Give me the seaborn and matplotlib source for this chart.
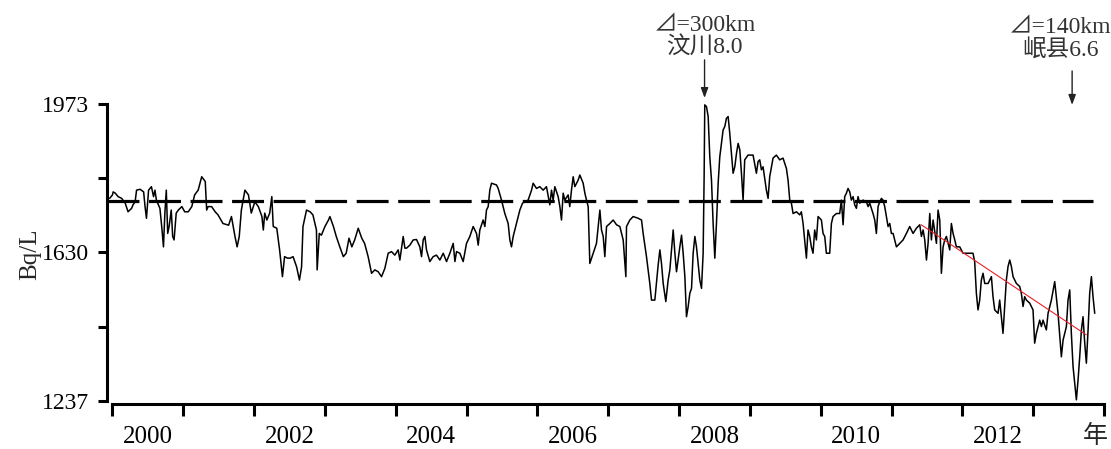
import numpy as np
import pandas as pd
import matplotlib
matplotlib.use("Agg")
import matplotlib.pyplot as plt
from matplotlib.transforms import blended_transform_factory
import seaborn as sns

# ---- data: (decimal year, radon Bq/L) ----
radon_2000_2003 = [
    (1999.96, 1755), (2000.00, 1763), (2000.01, 1770), (2000.04, 1767), (2000.08, 1759),
    (2000.13, 1755), (2000.18, 1744), (2000.22, 1724), (2000.27, 1732), (2000.29, 1740),
    (2000.32, 1747), (2000.34, 1774), (2000.39, 1776), (2000.44, 1770), (2000.46, 1736),
    (2000.48, 1709), (2000.51, 1774), (2000.55, 1782), (2000.58, 1759), (2000.60, 1774),
    (2000.62, 1751), (2000.67, 1732), (2000.70, 1682), (2000.72, 1643), (2000.74, 1721),
    (2000.76, 1774), (2000.78, 1674), (2000.80, 1690), (2000.83, 1728), (2000.85, 1667),
    (2000.87, 1659), (2000.90, 1721), (2000.93, 1728), (2000.98, 1736), (2001.02, 1724),
    (2001.07, 1724), (2001.12, 1736), (2001.16, 1763), (2001.21, 1774), (2001.26, 1805),
    (2001.31, 1794), (2001.33, 1728), (2001.35, 1736), (2001.40, 1736), (2001.45, 1724),
    (2001.49, 1717), (2001.56, 1697), (2001.64, 1693), (2001.68, 1713), (2001.73, 1667),
    (2001.76, 1643), (2001.79, 1667), (2001.82, 1728), (2001.87, 1774), (2001.92, 1763),
    (2001.96, 1721), (2002.01, 1747), (2002.06, 1736), (2002.11, 1713), (2002.13, 1682),
    (2002.15, 1721), (2002.18, 1705), (2002.22, 1721), (2002.25, 1759), (2002.27, 1690),
    (2002.32, 1686), (2002.36, 1636), (2002.40, 1566), (2002.43, 1619), (2002.47, 1615),
    (2002.51, 1615), (2002.55, 1619), (2002.60, 1592), (2002.64, 1557), (2002.67, 1592),
    (2002.69, 1690), (2002.74, 1728), (2002.79, 1724), (2002.83, 1717), (2002.88, 1682),
    (2002.89, 1584), (2002.92, 1674), (2002.95, 1670), (2003.00, 1690), (2003.05, 1705),
    (2003.07, 1713), (2003.12, 1690), (2003.16, 1667), (2003.21, 1643), (2003.26, 1619),
    (2003.30, 1628), (2003.34, 1663), (2003.38, 1643), (2003.42, 1659), (2003.47, 1686),
    (2003.52, 1663), (2003.56, 1651), (2003.61, 1619),
]

radon_2003_2008 = [
    (2003.658, 1575), (2003.705, 1584), (2003.752, 1579), (2003.799, 1566), (2003.846, 1588),
    (2003.893, 1628), (2003.940, 1632), (2003.987, 1623), (2004.034, 1636), (2004.058, 1610),
    (2004.105, 1667), (2004.129, 1640), (2004.152, 1640), (2004.199, 1647), (2004.246, 1659),
    (2004.293, 1660), (2004.340, 1643), (2004.364, 1619), (2004.387, 1659), (2004.411, 1667),
    (2004.434, 1636), (2004.481, 1606), (2004.528, 1619), (2004.575, 1623), (2004.623, 1610),
    (2004.670, 1628), (2004.717, 1606), (2004.764, 1628), (2004.811, 1651), (2004.835, 1606),
    (2004.858, 1632), (2004.905, 1628), (2004.952, 1606), (2004.999, 1651), (2005.046, 1667),
    (2005.093, 1690), (2005.140, 1674), (2005.164, 1647), (2005.187, 1682), (2005.234, 1705),
    (2005.258, 1690), (2005.281, 1728), (2005.305, 1736), (2005.328, 1774), (2005.352, 1790),
    (2005.422, 1786), (2005.446, 1778), (2005.493, 1751), (2005.540, 1720), (2005.587, 1697),
    (2005.611, 1659), (2005.634, 1643), (2005.658, 1667), (2005.705, 1697), (2005.752, 1728),
    (2005.790, 1744), (2005.822, 1747), (2005.869, 1751), (2005.917, 1774), (2005.940, 1790),
    (2005.987, 1778), (2006.034, 1782), (2006.081, 1774), (2006.128, 1782), (2006.175, 1740),
    (2006.199, 1774), (2006.222, 1751), (2006.246, 1782), (2006.293, 1759), (2006.317, 1736),
    (2006.340, 1705), (2006.364, 1767), (2006.387, 1751), (2006.434, 1763), (2006.457, 1736),
    (2006.481, 1774), (2006.505, 1805), (2006.528, 1782), (2006.575, 1797), (2006.599, 1809),
    (2006.646, 1790), (2006.670, 1767), (2006.693, 1751), (2006.717, 1736), (2006.740, 1601),
    (2006.787, 1628), (2006.834, 1651), (2006.882, 1728), (2006.905, 1682), (2006.929, 1667),
    (2006.952, 1619), (2006.976, 1690), (2007.023, 1697), (2007.070, 1705), (2007.117, 1694),
    (2007.164, 1690), (2007.211, 1659), (2007.249, 1566), (2007.258, 1690), (2007.305, 1705),
    (2007.352, 1713), (2007.423, 1709), (2007.470, 1705), (2007.493, 1674), (2007.540, 1619),
    (2007.587, 1548), (2007.611, 1504), (2007.658, 1504), (2007.705, 1597), (2007.729, 1636),
    (2007.752, 1601), (2007.776, 1548), (2007.813, 1500), (2007.846, 1557), (2007.870, 1584),
    (2007.917, 1682), (2007.941, 1628), (2007.964, 1579), (2008.011, 1643), (2008.035, 1670),
    (2008.058, 1628), (2008.082, 1566), (2008.105, 1460), (2008.129, 1487), (2008.152, 1522),
    (2008.176, 1535), (2008.199, 1628), (2008.223, 1667), (2008.246, 1643), (2008.293, 1557),
    (2008.317, 1535), (2008.340, 1628), (2008.354, 1805), (2008.363, 1971), (2008.387, 1967),
    (2008.411, 1944), (2008.434, 1851), (2008.458, 1797), (2008.481, 1697), (2008.505, 1615),
    (2008.528, 1697), (2008.552, 1790), (2008.575, 1851), (2008.622, 1913), (2008.646, 1921),
    (2008.669, 1940), (2008.693, 1944), (2008.716, 1905), (2008.740, 1859), (2008.763, 1813),
    (2008.787, 1828), (2008.811, 1859), (2008.834, 1882), (2008.858, 1867), (2008.881, 1813),
]

radon_2008_2013 = [
    (2008.904, 1751), (2008.927, 1844), (2008.974, 1855), (2009.045, 1855), (2009.092, 1813),
    (2009.116, 1840), (2009.139, 1844), (2009.163, 1821), (2009.186, 1828), (2009.233, 1774),
    (2009.257, 1755), (2009.280, 1805), (2009.327, 1848), (2009.374, 1855), (2009.421, 1844),
    (2009.468, 1848), (2009.516, 1824), (2009.539, 1797), (2009.563, 1751), (2009.586, 1744),
    (2009.610, 1720), (2009.657, 1724), (2009.704, 1717), (2009.727, 1724), (2009.751, 1697),
    (2009.774, 1659), (2009.798, 1615), (2009.821, 1682), (2009.845, 1667), (2009.868, 1643),
    (2009.892, 1628), (2009.915, 1682), (2009.939, 1659), (2009.963, 1713), (2010.010, 1705),
    (2010.033, 1674), (2010.057, 1667), (2010.080, 1628), (2010.127, 1628), (2010.151, 1697),
    (2010.174, 1713), (2010.221, 1720), (2010.268, 1720), (2010.292, 1751), (2010.316, 1694),
    (2010.339, 1759), (2010.363, 1767), (2010.386, 1778), (2010.410, 1770), (2010.433, 1751),
    (2010.457, 1759), (2010.480, 1740), (2010.504, 1732), (2010.527, 1759), (2010.551, 1744),
    (2010.598, 1751), (2010.645, 1747), (2010.669, 1736), (2010.692, 1744), (2010.739, 1720),
    (2010.763, 1705), (2010.786, 1674), (2010.810, 1736), (2010.833, 1747), (2010.857, 1755),
    (2010.880, 1751), (2010.904, 1736), (2010.927, 1713), (2010.951, 1690), (2010.975, 1697),
    (2010.998, 1674), (2011.022, 1674), (2011.045, 1659), (2011.069, 1643), (2011.116, 1651),
    (2011.163, 1659), (2011.210, 1674), (2011.257, 1690), (2011.304, 1674), (2011.351, 1686),
    (2011.398, 1694), (2011.422, 1667), (2011.446, 1682), (2011.469, 1659), (2011.493, 1610),
    (2011.516, 1651), (2011.540, 1720), (2011.563, 1659), (2011.587, 1705), (2011.634, 1651),
    (2011.657, 1728), (2011.681, 1705), (2011.704, 1575), (2011.728, 1643), (2011.751, 1659),
    (2011.775, 1667), (2011.822, 1636), (2011.845, 1697), (2011.869, 1674), (2011.893, 1659),
    (2011.916, 1643), (2011.963, 1643), (2012.010, 1628), (2012.057, 1628), (2012.104, 1628),
    (2012.150, 1628), (2012.174, 1606), (2012.198, 1522), (2012.221, 1478), (2012.245, 1504),
    (2012.268, 1557), (2012.292, 1575), (2012.316, 1548), (2012.363, 1548), (2012.410, 1566),
    (2012.433, 1513), (2012.457, 1478), (2012.504, 1469), (2012.527, 1504), (2012.574, 1416),
    (2012.598, 1487), (2012.621, 1557), (2012.645, 1593), (2012.669, 1610), (2012.692, 1593),
    (2012.716, 1566), (2012.763, 1548), (2012.810, 1540), (2012.833, 1522), (2012.857, 1487),
    (2012.880, 1513), (2012.904, 1504), (2012.951, 1496), (2012.998, 1478), (2013.021, 1390),
    (2013.045, 1416), (2013.092, 1451), (2013.116, 1434), (2013.139, 1451), (2013.186, 1425),
    (2013.210, 1469), (2013.257, 1504), (2013.304, 1553), (2013.351, 1469), (2013.398, 1354),
    (2013.422, 1398), (2013.445, 1416), (2013.469, 1434), (2013.492, 1504), (2013.516, 1531),
    (2013.539, 1416), (2013.563, 1328), (2013.587, 1284), (2013.610, 1240), (2013.634, 1293),
    (2013.657, 1354), (2013.681, 1425), (2013.704, 1460), (2013.728, 1390), (2013.751, 1337),
    (2013.775, 1425), (2013.798, 1522), (2013.822, 1566), (2013.845, 1513), (2013.869, 1469),
]

mean_level = 1750
mean_span = [1999.92, 2013.85]
trend_years = [2011.42, 2013.75]
trend_values = [1694, 1412]
ytick_values = [1237, 1630, 1973]
year_ticks = list(range(2000, 2015))
year_labels = ["2000", "2002", "2004", "2006", "2008", "2010", "2012"]
quake_years = [2008.36, 2013.55]
quake_text_x = [2008.36, 2013.38]
quake_dist = ["⊿=300km", "⊿=140km"]
quake_name = ["汶川8.0", "岷县6.6"]

obs = pd.DataFrame(radon_2000_2003 + radon_2003_2008 + radon_2008_2013,
                   columns=["year", "value"])

sns.set_style("ticks")
FAMILY = ["Liberation Serif", "Noto Sans CJK SC", "DejaVu Sans"]
plt.rcParams["font.family"] = FAMILY

fig = plt.figure(figsize=(11.11, 4.49), dpi=100)
ax = fig.add_axes([106.8 / 1111, 45 / 449, 997.2 / 1111, 300 / 449])

lo, mid, hi = ytick_values


def fwd(v):
    v = np.asarray(v, dtype=float)
    return np.where(v < mid, (v - lo) / (mid - lo) * 0.5, 0.5 + (v - mid) / (hi - mid) * 0.5)


def inv(u):
    u = np.asarray(u, dtype=float)
    return np.where(u < 0.5, lo + u * 2 * (mid - lo), mid + (u - 0.5) * 2 * (hi - mid))


ax.set_yscale("function", functions=(fwd, inv))

sns.lineplot(data=obs, x="year", y="value", ax=ax, color="black", lw=1.1,
             estimator=None, sort=False)
ax.hlines(mean_level, mean_span[0], mean_span[1], color="black", lw=2.3,
          linestyles=(0, (10, 3)))
ax.plot(trend_years, trend_values, color="#e8202a", lw=0.8)

ax.set_xlim(1999.92, 2014.0)
ax.set_ylim(1229, 1973)

for s in ["top", "right"]:
    ax.spines[s].set_visible(False)
for s in ["left", "bottom"]:
    ax.spines[s].set_linewidth(2.2)
    ax.spines[s].set_color("black")
ax.spines["left"].set_bounds(lo, hi)
ax.spines["bottom"].set_bounds(2000, 2014)

ax.set_yticks(ytick_values)
ax.set_yticklabels([str(v) for v in ytick_values])
ax.set_yticks([float(inv(0.25)), float(inv(0.75))], minor=True)
ax.tick_params(axis="y", which="both", direction="out", length=6.5, width=2.2,
               labelsize=17, pad=6, colors="black")

ax.set_xticks(year_ticks)
ax.set_xticklabels([])
ax.set_xticks([int(l) + 0.5 for l in year_labels], minor=True)
ax.set_xticklabels(year_labels, minor=True)
ax.tick_params(axis="x", which="major", direction="out", length=8.5, width=2.2, colors="black")
ax.tick_params(axis="x", which="minor", length=0, labelsize=18, pad=16, colors="black")

ax.set_xlabel("")
ax.set_ylabel("Bq/L", fontsize=18)
ax.yaxis.set_label_coords(-0.066, 0.5)

trans = blended_transform_factory(ax.transData, ax.transAxes)
ax.text(2013.87, -0.107, "年", transform=trans, ha="center", va="center", fontsize=18,
        family=["Noto Sans CJK SC"])

line1_y = [1.262, 1.255]
line2_y = [1.19, 1.182]
arrow_tail = [1.147, 1.11]
arrow_head = [1.02, 0.997]
for i in range(2):
    ax.text(quake_text_x[i], line1_y[i], quake_dist[i], transform=trans, ha="center",
            va="center", fontsize=17, color="#333333", family=FAMILY)
    ax.text(quake_text_x[i], line2_y[i], quake_name[i], transform=trans, ha="center",
            va="center", fontsize=17, color="#333333", family=FAMILY)
    ax.annotate("", xy=(quake_years[i], arrow_head[i]), xytext=(quake_years[i], arrow_tail[i]),
                xycoords=trans, textcoords=trans, annotation_clip=False,
                arrowprops=dict(arrowstyle="-|>,head_length=0.6,head_width=0.22",
                                color="#222222", lw=1.0, shrinkA=0, shrinkB=0))

fig.savefig("out.png", dpi=100)
